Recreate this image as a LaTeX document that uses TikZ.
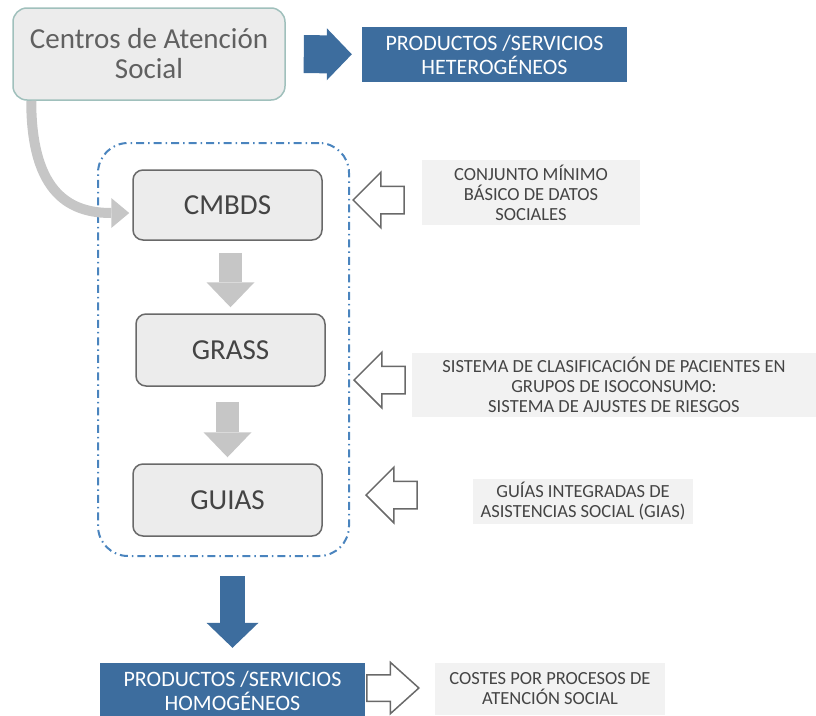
\documentclass[tikz,border=0pt]{standalone}
\usepackage{fontspec}
\setmainfont{Carlito}
\usepackage{tikz}
\usetikzlibrary{arrows.meta,positioning,calc,shapes.arrows}
\definecolor{boxblue}{RGB}{61,109,158}
\definecolor{boxgray}{RGB}{236,236,236}
\definecolor{infogray}{RGB}{242,242,242}
\definecolor{edgegray}{RGB}{105,105,105}
\definecolor{arrowgray}{RGB}{198,198,198}
\definecolor{textgray}{RGB}{68,68,68}
\definecolor{frameblue}{RGB}{74,132,190}
\definecolor{tealgray}{RGB}{160,192,188}

\begin{document}
\begin{tikzpicture}[x=1pt, y=-1pt,
  stage/.style={draw=edgegray, line width=1.5pt, fill=boxgray, rounded corners=10pt, minimum width=189pt, minimum height=72pt, text=textgray, font=\fontsize{29}{30}\selectfont},
  product/.style={fill=boxblue, text=white, minimum width=265pt, minimum height=55pt, align=center, font=\fontsize{22}{24}\selectfont},
  info/.style={fill=infogray, text=textgray, align=center, font=\fontsize{18.5}{20}\selectfont},
  bluearrow/.style={draw=boxblue, -{Triangle[length=25pt,width=52pt,line width=0pt]}},
  grayarrow/.style={draw=arrowgray, line width=23pt, -{Triangle[length=25pt,width=48pt,line width=0pt]}},
  hollow/.style={single arrow, draw=edgegray, fill=white, line width=1.5pt, inner xsep=0pt, inner ysep=13pt, single arrow head extend=14pt, minimum height=51pt}
]
\useasboundingbox (0,0) rectangle (816,715);

% top row
\node[draw=tealgray, line width=1.5pt, fill=boxgray, rounded corners=14pt, minimum width=272pt, minimum height=92pt, align=center, text=textgray!85, font=\fontsize{29}{30}\selectfont] (centros) at (149,54) {Centros de Atención\\Social};
\node[product] (het) at (494.5,54.5) {PRODUCTOS /SERVICIOS\\HETEROGÉNEOS};
\draw[bluearrow, line width=38pt, shorten <=18pt, shorten >=10pt] (centros) -- (het);

% dash-dot frame with the three stages
\node[draw=frameblue, line width=2pt, dash pattern=on 8pt off 4pt on 1.5pt off 4pt, rounded corners=30pt, minimum width=251pt, minimum height=413pt] (frame) at (223.5,349.5) {};
\node[stage, minimum height=70pt] (cmbds) at (227.5,205) {CMBDS};
\node[stage] (grass) at (230.5,350) {GRASS};
\node[stage] (guias) at (227.5,500) {GUIAS};
\draw[grayarrow, shorten <=12pt, shorten >=6pt] (grass.north |- cmbds.south) -- (grass.north);
\draw[grayarrow, shorten <=15pt, shorten >=6pt] (guias.north |- grass.south) -- (guias.north);
\draw[draw=arrowgray, line width=10pt, shorten >=3pt, -{Triangle[length=18pt,width=30pt,line width=0pt]}] ([xshift=19pt]centros.south west) .. controls +(0,95) and +(-60,0) .. ([yshift=-8pt]cmbds.west);

% descriptions on the right
\node[info, minimum width=218pt, minimum height=65pt] (cmbdsinfo) at (531,192.5) {CONJUNTO MÍNIMO\\BÁSICO DE DATOS\\SOCIALES};
\node[info, minimum width=404pt, minimum height=64pt] (grassinfo) at (614,385) {SISTEMA DE CLASIFICACIÓN DE PACIENTES EN\\GRUPOS DE ISOCONSUMO:\\SISTEMA DE AJUSTES DE RIESGOS};
\node[info, minimum width=220pt, minimum height=43pt] (guiasinfo) at (583,501.5) {GUÍAS INTEGRADAS DE\\ASISTENCIAS SOCIAL (GIAS)};
\node[hollow, shape border rotate=180, anchor=tip] (inA) at (352,200) {};
\node[hollow, shape border rotate=180, anchor=tip] (inB) at (353,380) {};
\node[hollow, shape border rotate=180, anchor=tip] (inC) at (365,495) {};

% bottom row
\node[product] (hom) at (232.5,690.5) {PRODUCTOS /SERVICIOS\\HOMOGÉNEOS};
\draw[bluearrow, line width=25pt, shorten <=19pt, shorten >=15pt] (hom.north |- frame.south) -- (hom.north);
\node[info, minimum width=230pt, minimum height=52pt] (costes) at (550,689) {COSTES POR PROCESOS DE\\ATENCIÓN SOCIAL};
\node[hollow, anchor=tip, minimum height=52pt, inner ysep=12.5pt, single arrow head extend=12.5pt, single arrow tip angle=84] (outD) at (420,688) {};
\end{tikzpicture}
\end{document}
